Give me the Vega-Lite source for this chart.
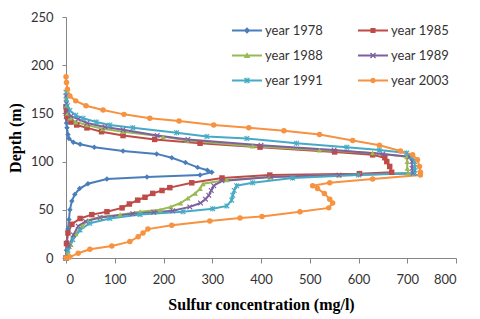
{
  "$schema": "https://vega.github.io/schema/vega-lite/v6.json",
  "width": 390,
  "height": 241,
  "autosize": {"type": "none"},
  "padding": {"left": 66, "top": 17, "right": 24, "bottom": 61},
  "background": "#ffffff",
  "config": {
    "view": {"stroke": null},
    "axis": {"labelFont": "Lato", "labelFontSize": 13, "labelColor": "#333333", "titleFont": "Liberation Serif", "titleFontSize": 16, "titleFontWeight": "bold", "titleColor": "#000000", "domainColor": "#868686", "tickColor": "#868686", "grid": false}
  },
  "data": {"values": [
    {"y":"year 1978","c":0,"d":148},{"y":"year 1978","c":0.5,"d":145},{"y":"year 1978","c":1,"d":140},{"y":"year 1978","c":2,"d":135},{"y":"year 1978","c":4,"d":128},{"y":"year 1978","c":6,"d":124},{"y":"year 1978","c":15,"d":120},{"y":"year 1978","c":29,"d":118},{"y":"year 1978","c":58,"d":115},{"y":"year 1978","c":117,"d":111},{"y":"year 1978","c":186,"d":108},{"y":"year 1978","c":217,"d":104},{"y":"year 1978","c":245,"d":99},{"y":"year 1978","c":270,"d":94},{"y":"year 1978","c":290,"d":91},{"y":"year 1978","c":299,"d":89},{"y":"year 1978","c":275,"d":86},{"y":"year 1978","c":166,"d":84},{"y":"year 1978","c":84,"d":82},{"y":"year 1978","c":45,"d":77},{"y":"year 1978","c":28,"d":72},{"y":"year 1978","c":18,"d":66},{"y":"year 1978","c":12,"d":59},{"y":"year 1978","c":8,"d":50},{"y":"year 1978","c":6,"d":40},{"y":"year 1978","c":4,"d":30},{"y":"year 1978","c":2,"d":17},{"y":"year 1978","c":1,"d":8},{"y":"year 1978","c":0,"d":0},
    {"y":"year 1985","c":0,"d":157},{"y":"year 1985","c":1,"d":152},{"y":"year 1985","c":2,"d":148},{"y":"year 1985","c":4,"d":145},{"y":"year 1985","c":10,"d":141},{"y":"year 1985","c":22,"d":138},{"y":"year 1985","c":43,"d":135},{"y":"year 1985","c":73,"d":131},{"y":"year 1985","c":117,"d":127},{"y":"year 1985","c":182,"d":123},{"y":"year 1985","c":275,"d":119},{"y":"year 1985","c":398,"d":115},{"y":"year 1985","c":551,"d":110},{"y":"year 1985","c":629,"d":107},{"y":"year 1985","c":654,"d":104},{"y":"year 1985","c":658,"d":100},{"y":"year 1985","c":664,"d":95},{"y":"year 1985","c":668,"d":89},{"y":"year 1985","c":602,"d":87.5},{"y":"year 1985","c":418,"d":86},{"y":"year 1985","c":320,"d":83},{"y":"year 1985","c":258,"d":78},{"y":"year 1985","c":213,"d":73},{"y":"year 1985","c":197,"d":70},{"y":"year 1985","c":178,"d":67},{"y":"year 1985","c":162,"d":63},{"y":"year 1985","c":147,"d":60},{"y":"year 1985","c":130,"d":56},{"y":"year 1985","c":115,"d":52},{"y":"year 1985","c":84,"d":48},{"y":"year 1985","c":53,"d":45},{"y":"year 1985","c":29,"d":41},{"y":"year 1985","c":12,"d":35},{"y":"year 1985","c":4,"d":26},{"y":"year 1985","c":1,"d":15},{"y":"year 1985","c":0,"d":0},
    {"y":"year 1988","c":0,"d":165},{"y":"year 1988","c":1,"d":158},{"y":"year 1988","c":3,"d":150},{"y":"year 1988","c":8,"d":145},{"y":"year 1988","c":20,"d":141},{"y":"year 1988","c":43,"d":138},{"y":"year 1988","c":75,"d":134},{"y":"year 1988","c":117,"d":131},{"y":"year 1988","c":199,"d":126},{"y":"year 1988","c":248,"d":122},{"y":"year 1988","c":383,"d":116},{"y":"year 1988","c":520,"d":112},{"y":"year 1988","c":629,"d":109},{"y":"year 1988","c":699,"d":105},{"y":"year 1988","c":700,"d":100},{"y":"year 1988","c":700,"d":93},{"y":"year 1988","c":702,"d":88},{"y":"year 1988","c":560,"d":86},{"y":"year 1988","c":418,"d":84},{"y":"year 1988","c":330,"d":81},{"y":"year 1988","c":281,"d":77},{"y":"year 1988","c":275,"d":72},{"y":"year 1988","c":265,"d":67},{"y":"year 1988","c":250,"d":62},{"y":"year 1988","c":235,"d":57},{"y":"year 1988","c":215,"d":53},{"y":"year 1988","c":193,"d":50},{"y":"year 1988","c":152,"d":48},{"y":"year 1988","c":111,"d":45},{"y":"year 1988","c":70,"d":42.5},{"y":"year 1988","c":45,"d":39},{"y":"year 1988","c":33,"d":33},{"y":"year 1988","c":20,"d":25},{"y":"year 1988","c":10,"d":14},{"y":"year 1988","c":4,"d":6},{"y":"year 1988","c":0,"d":0},
    {"y":"year 1989","c":0,"d":168},{"y":"year 1989","c":1,"d":160},{"y":"year 1989","c":3,"d":152},{"y":"year 1989","c":10,"d":147},{"y":"year 1989","c":25,"d":144},{"y":"year 1989","c":43,"d":140},{"y":"year 1989","c":80,"d":136},{"y":"year 1989","c":117,"d":133},{"y":"year 1989","c":187,"d":127},{"y":"year 1989","c":250,"d":123},{"y":"year 1989","c":400,"d":117},{"y":"year 1989","c":550,"d":112},{"y":"year 1989","c":650,"d":108},{"y":"year 1989","c":705,"d":105},{"y":"year 1989","c":710,"d":100},{"y":"year 1989","c":710,"d":93},{"y":"year 1989","c":712,"d":88},{"y":"year 1989","c":560,"d":86},{"y":"year 1989","c":420,"d":84},{"y":"year 1989","c":320,"d":80},{"y":"year 1989","c":303,"d":75},{"y":"year 1989","c":298,"d":70},{"y":"year 1989","c":293,"d":65},{"y":"year 1989","c":286,"d":61},{"y":"year 1989","c":276,"d":57},{"y":"year 1989","c":254,"d":53},{"y":"year 1989","c":219,"d":49},{"y":"year 1989","c":180,"d":47.5},{"y":"year 1989","c":137,"d":46},{"y":"year 1989","c":70,"d":42},{"y":"year 1989","c":40,"d":38},{"y":"year 1989","c":25,"d":33},{"y":"year 1989","c":15,"d":24},{"y":"year 1989","c":6,"d":12},{"y":"year 1989","c":0,"d":0},
    {"y":"year 1991","c":0,"d":172},{"y":"year 1991","c":1,"d":165},{"y":"year 1991","c":3,"d":158},{"y":"year 1991","c":8,"d":153},{"y":"year 1991","c":20,"d":148},{"y":"year 1991","c":35,"d":145},{"y":"year 1991","c":62,"d":141},{"y":"year 1991","c":90,"d":138},{"y":"year 1991","c":137,"d":135},{"y":"year 1991","c":227,"d":130},{"y":"year 1991","c":289,"d":126},{"y":"year 1991","c":371,"d":124},{"y":"year 1991","c":473,"d":119},{"y":"year 1991","c":576,"d":115},{"y":"year 1991","c":643,"d":112},{"y":"year 1991","c":699,"d":109},{"y":"year 1991","c":709,"d":105},{"y":"year 1991","c":715,"d":100},{"y":"year 1991","c":716,"d":94},{"y":"year 1991","c":716,"d":88},{"y":"year 1991","c":600,"d":86},{"y":"year 1991","c":465,"d":83},{"y":"year 1991","c":383,"d":78},{"y":"year 1991","c":350,"d":75},{"y":"year 1991","c":345,"d":70},{"y":"year 1991","c":342,"d":65},{"y":"year 1991","c":340,"d":60},{"y":"year 1991","c":330,"d":54},{"y":"year 1991","c":301,"d":51},{"y":"year 1991","c":240,"d":48},{"y":"year 1991","c":152,"d":45},{"y":"year 1991","c":90,"d":41},{"y":"year 1991","c":49,"d":36},{"y":"year 1991","c":29,"d":29},{"y":"year 1991","c":14,"d":19},{"y":"year 1991","c":4,"d":8},{"y":"year 1991","c":0,"d":0},
    {"y":"year 2003","c":0,"d":188},{"y":"year 2003","c":1,"d":182},{"y":"year 2003","c":3,"d":175},{"y":"year 2003","c":8,"d":168},{"y":"year 2003","c":20,"d":163},{"y":"year 2003","c":41,"d":158},{"y":"year 2003","c":76,"d":153.5},{"y":"year 2003","c":119,"d":149},{"y":"year 2003","c":172,"d":145},{"y":"year 2003","c":232,"d":142},{"y":"year 2003","c":303,"d":138},{"y":"year 2003","c":375,"d":135},{"y":"year 2003","c":447,"d":132},{"y":"year 2003","c":520,"d":128},{"y":"year 2003","c":588,"d":122},{"y":"year 2003","c":643,"d":117},{"y":"year 2003","c":686,"d":111},{"y":"year 2003","c":711,"d":107},{"y":"year 2003","c":721,"d":102},{"y":"year 2003","c":725,"d":95},{"y":"year 2003","c":727,"d":89},{"y":"year 2003","c":727,"d":86},{"y":"year 2003","c":629,"d":82},{"y":"year 2003","c":541,"d":78},{"y":"year 2003","c":506,"d":75},{"y":"year 2003","c":516,"d":72},{"y":"year 2003","c":530,"d":67},{"y":"year 2003","c":541,"d":61},{"y":"year 2003","c":547,"d":57},{"y":"year 2003","c":539,"d":52},{"y":"year 2003","c":480,"d":48},{"y":"year 2003","c":402,"d":43},{"y":"year 2003","c":357,"d":41.5},{"y":"year 2003","c":295,"d":38.5},{"y":"year 2003","c":217,"d":34},{"y":"year 2003","c":168,"d":30},{"y":"year 2003","c":158,"d":26},{"y":"year 2003","c":148,"d":22},{"y":"year 2003","c":131,"d":17},{"y":"year 2003","c":94,"d":12.5},{"y":"year 2003","c":49,"d":9},{"y":"year 2003","c":25,"d":5},{"y":"year 2003","c":8,"d":1},{"y":"year 2003","c":0,"d":0}
  ]},
  "encoding": {
    "x": {"field": "c", "type": "quantitative", "scale": {"domain": [0, 800], "nice": false}, "axis": {"title": "Sulfur concentration (mg/l)", "values": [0,100,200,300,400,500,600,700,800], "tickSize": 5, "labelPadding": 10, "titlePadding": 10}},
    "y": {"field": "d", "type": "quantitative", "scale": {"domain": [0, 250], "nice": false}, "axis": {"title": "Depth (m)", "values": [0,50,100,150,200,250], "tickSize": 4, "labelPadding": 9, "titlePadding": 7}},
    "color": {"field": "y", "type": "nominal", "scale": {"domain": ["year 1978","year 1985","year 1988","year 1989","year 1991","year 2003"], "range": ["#4A7EBB","#BE4B48","#98B954","#7D60A0","#46AAC5","#F69240"]},
      "legend": {"title": null, "orient": "none", "legendX": 166, "legendY": -1.5, "columns": 2, "direction": "horizontal", "padding": 0, "columnPadding": 34, "rowPadding": 3, "labelFont": "Lato", "labelFontSize": 13, "labelColor": "#333333", "labelOffset": 3, "symbolSize": 900,
        "encode": {"symbols": {"update": {"size": {"value": 900}, "strokeWidth": {"value": 0}, "fillOpacity": {"value": 1}, "opacity": {"value": 1},
          "shape": {"signal": "datum.value === 'year 1978' ? 'M-1,-0.07H1V0.07H-1Z M0,-0.22L0.22,0L0,0.22L-0.22,0Z' : datum.value === 'year 1985' ? 'M-1,-0.07H1V0.07H-1Z M-0.17,-0.17H0.17V0.17H-0.17Z' : datum.value === 'year 1988' ? 'M-1,-0.07H1V0.07H-1Z M0,-0.22L0.22,0.16H-0.22Z' : datum.value === 'year 1989' ? 'M-1,-0.07H1V0.07H-1Z M-0.2,-0.14L-0.14,-0.2L0,-0.06L0.14,-0.2L0.2,-0.14L0.06,0L0.2,0.14L0.14,0.2L0,0.06L-0.14,0.2L-0.2,0.14L-0.06,0Z' : datum.value === 'year 1991' ? 'M-1,-0.07H1V0.07H-1Z M-0.2,-0.14L-0.14,-0.2L0,-0.06L0.14,-0.2L0.2,-0.14L0.06,0L0.2,0.14L0.14,0.2L0,0.06L-0.14,0.2L-0.2,0.14L-0.06,0Z M-0.03,-0.2H0.03V0.2H-0.03Z' : 'M-1,-0.07H1V0.07H-1Z M-0.18,0A0.18,0.18,0,1,1,0.18,0A0.18,0.18,0,1,1,-0.18,0Z'"}}}}}
    }
  },
  "layer": [
    {"mark": {"type": "line", "strokeWidth": 2}, "encoding": {"order": {"field": "d", "type": "quantitative"}}},
    {"mark": {"type": "point", "filled": true, "size": 30, "opacity": 1},
      "encoding": {"shape": {"condition": [
        {"test": "datum.y === 'year 1978'", "value": "diamond"},
        {"test": "datum.y === 'year 1985'", "value": "square"},
        {"test": "datum.y === 'year 1988'", "value": "triangle-up"},
        {"test": "datum.y === 'year 1989'", "value": "M-1,-0.7L-0.7,-1L0,-0.3L0.7,-1L1,-0.7L0.3,0L1,0.7L0.7,1L0,0.3L-0.7,1L-1,0.7L-0.3,0Z"},
        {"test": "datum.y === 'year 1991'", "value": "M-1,-0.7L-0.7,-1L0,-0.3L0.7,-1L1,-0.7L0.3,0L1,0.7L0.7,1L0,0.3L-0.7,1L-1,0.7L-0.3,0Z M-0.15,-1H0.15V1H-0.15Z"}
      ], "value": "circle"}}}
  ]
}
